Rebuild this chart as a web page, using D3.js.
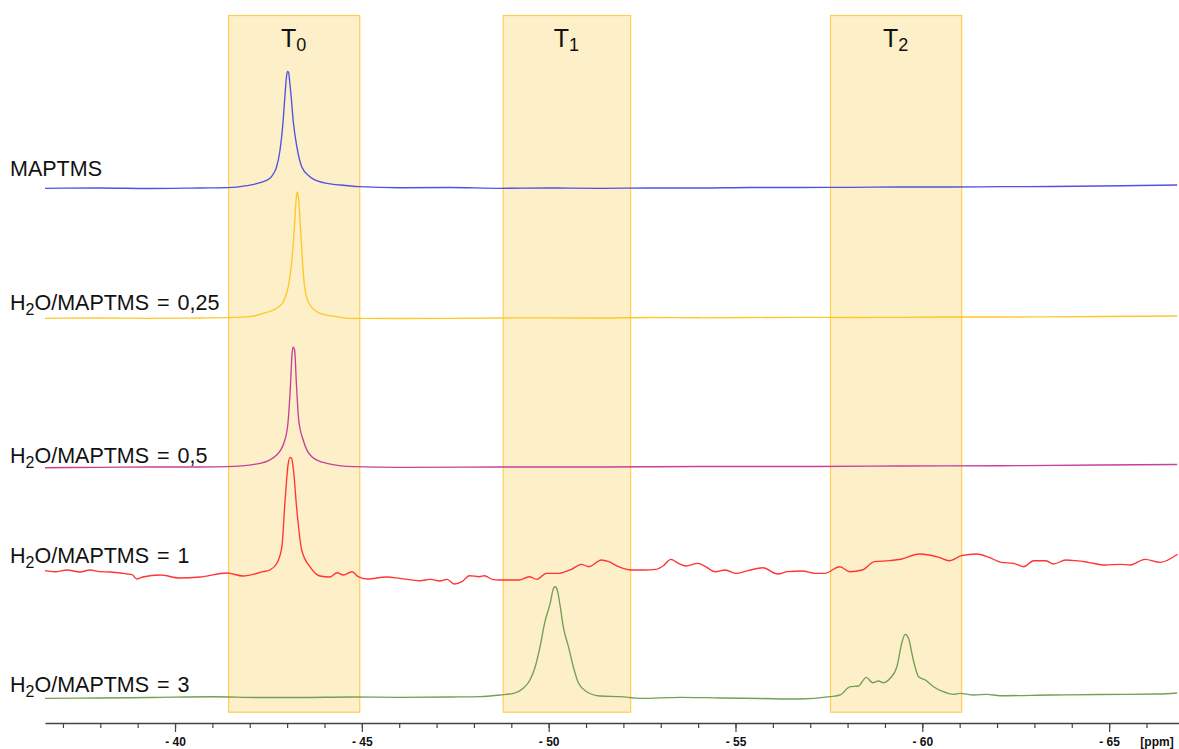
<!DOCTYPE html>
<html>
<head>
<meta charset="utf-8">
<script src="https://cdn.jsdelivr.net/npm/d3@7/dist/d3.min.js"></script>
<style>
  html, body { margin: 0; padding: 0; background: #ffffff; }
  svg { display: block; }
  text { font-family: "Liberation Sans", Arial, sans-serif; }
</style>
</head>
<body>
<svg id="chart" width="1179" height="749"></svg>
<script>
// ---------------- DATA ----------------
// chemical shift in ppm (negative), intensity in arbitrary units relative to each trace baseline
const seriesNames = ["MAPTMS", "H2O/MAPTMS = 0,25", "H2O/MAPTMS = 0,5", "H2O/MAPTMS = 1", "H2O/MAPTMS = 3"];
const seriesOffsets = [535, 405, 256, 146, 26];

const specMAPTMS = [
  [-36.52,-0.3],[-37.99,0],[-39.33,-0.5],[-40.67,0],[-41.42,0.3],[-41.92,2.3],[-42.28,5.3],[-42.54,9.7],
  [-42.63,14],[-42.72,21.3],[-42.81,38],[-42.88,61.3],[-42.94,91.3],[-42.98,110],[-43.01,116.5],[-43.04,115.5],
  [-43.07,106],[-43.10,94.7],[-43.17,64.7],[-43.26,41.3],[-43.39,21.3],[-43.61,11.3],[-43.97,5.3],[-44.42,3],[-44.93,1.3],
  [-46.02,0.3],[-47.36,0.5],[-48.70,-0.3],[-50.04,0],[-51.38,-0.3],[-52.71,0],[-54.05,0],[-55.39,0.5],
  [-56.73,0.5],[-58.07,0.7],[-59.41,1],[-60.74,1],[-62.08,1.3],[-63.42,1.5],[-64.76,2],[-65.83,2.5],[-66.82,3]
];
const specR025 = [
  [-36.52,-0.3],[-37.99,0],[-39.33,-0.3],[-40.67,0],[-41.38,0.3],[-42.01,1.3],[-42.36,4.7],[-42.72,9.7],
  [-42.90,16.3],[-43.03,31.3],[-43.12,54.7],[-43.19,88],[-43.24,118],[-43.27,126],[-43.31,118],
  [-43.36,88],[-43.42,51.3],[-43.48,28],[-43.61,13],[-43.88,4.7],[-44.33,1.3],[-44.68,-0.3],
  [-46.02,-0.5],[-47.36,-0.3],[-48.70,0],[-50.04,0.2],[-51.38,0],[-52.71,0.5],[-54.05,0.2],[-55.39,0.5],
  [-56.73,0.7],[-58.07,0.5],[-59.41,0.7],[-60.74,1],[-62.08,1],[-63.42,1.2],[-64.76,1.5],[-66.82,2]
];
const specR05 = [
  [-36.52,-0.7],[-37.99,-0.3],[-39.33,0],[-40.67,0],[-41.38,0.3],[-42.28,3.7],[-42.72,12],[-42.94,27],
  [-43.03,47],[-43.09,82],[-43.13,112],[-43.16,120],[-43.20,117],[-43.25,82],[-43.31,47],[-43.43,27],
  [-43.66,10.3],[-44.06,3.7],[-44.77,0.3],[-46.02,-0.3],[-48.70,0],[-51.38,0],[-54.05,0.5],[-56.73,0.5],
  [-59.41,1],[-62.08,1.3],[-64.76,2],[-66.82,2.5]
];
const specR1 = [
  [-36.52,6.3],[-36.79,5.3],[-37.11,7],[-37.46,5],[-37.72,7],[-37.99,5.3],[-38.26,5],[-38.72,3],[-38.85,2.3],
  [-38.98,-2],[-39.14,0],[-39.60,2],[-40.13,-1],[-40.67,0],[-41.39,4],[-41.82,1],[-42.36,5.3],[-42.54,7],
  [-42.73,14],[-42.86,30.3],[-42.94,73.7],[-43.03,113.7],[-43.08,119.7],[-43.12,118.7],[-43.17,107],
  [-43.26,67],[-43.39,27],[-43.61,10.3],[-43.88,1],[-44.15,0],[-44.34,4.3],[-44.50,2],[-44.74,5.3],
  [-44.90,0.3],[-45.14,-2],[-45.67,0],[-46.02,-1.3],[-46.56,-3.7],[-46.83,-2.3],[-47.09,-4],[-47.28,-2.3],
  [-47.48,-7],[-47.68,-4.7],[-47.88,1.3],[-48.15,0.3],[-48.28,1.3],[-48.49,-2.3],[-48.68,-3],[-49.21,-3],
  [-49.48,0.3],[-49.68,-2.3],[-49.94,3.7],[-50.28,3.7],[-50.61,7.7],[-50.87,12.7],[-51.08,10.3],
  [-51.41,17],[-51.61,15.3],[-51.87,10.3],[-52.21,7],[-52.54,7],[-52.87,7.7],[-53.07,11.3],[-53.27,17.7],
  [-53.47,13.7],[-53.67,11],[-54.00,13.7],[-54.20,10.3],[-54.46,5.3],[-54.73,7],[-55.00,3.7],[-55.33,6.3],
  [-55.73,9.3],[-56.13,3],[-56.39,5.3],[-56.79,6],[-57.13,3.7],[-57.39,3.7],[-57.79,10.3],[-58.06,5.3],
  [-58.39,7],[-58.72,15.3],[-59.12,16.3],[-59.45,18],[-59.91,23],[-60.18,22],[-60.45,19.7],[-60.72,16.3],
  [-61.05,21.3],[-61.45,23],[-61.78,19.7],[-62.11,14.7],[-62.44,13.7],[-62.71,10.3],[-62.98,16.3],
  [-63.31,16.3],[-63.51,13],[-63.84,17],[-64.11,16.3],[-64.44,14.7],[-64.90,12],[-65.30,12.7],[-65.56,12],
  [-65.96,17.7],[-66.37,14.7],[-66.83,22.7]
];
const specR3 = [
  [-36.52,-1.3],[-37.99,-1],[-39.33,-0.5],[-41.02,0.3],[-42.28,-0.5],[-43.35,-0.5],[-44.68,0],[-46.02,-0.3],
  [-47.36,0],[-48.16,0.3],[-48.70,2],[-49.06,3.7],[-49.32,8.7],[-49.50,17],[-49.64,30.3],[-49.77,50.3],
  [-49.90,75.3],[-50.04,93.7],[-50.13,108.7],[-50.17,110.3],[-50.23,107],[-50.31,90.3],[-50.39,70.3],
  [-50.53,50.3],[-50.66,30.3],[-50.80,13.7],[-51.02,5.3],[-51.38,1],[-51.91,0.3],[-52.45,-1.3],[-53.52,-0.3],
  [-54.59,-1],[-55.66,-1.5],[-56.73,-2],[-57.53,0.3],[-57.80,2],[-58.07,10.3],[-58.29,11],[-58.50,19.7],
  [-58.67,14.3],[-58.83,16],[-58.96,14.3],[-59.14,18.7],[-59.32,30.3],[-59.45,53.7],[-59.54,62.7],
  [-59.63,58.7],[-59.76,37],[-59.90,20.3],[-60.08,17],[-60.30,10.3],[-60.56,5.3],[-60.83,2.7],[-61.01,3.7],
  [-61.37,2],[-61.73,2.7],[-62.08,1.3],[-63.42,2],[-64.76,2.5],[-66.31,3],[-66.82,4]
];
const seriesData = [specMAPTMS, specR025, specR05, specR1, specR3];
const seriesColors = ["#5050e4", "#ffc828", "#c8409a", "#ff3434", "#72a055"];

const bandRanges = [[-41.42, -44.93], [-48.77, -52.18], [-57.53, -61.04]];
const bandLabels = ["0", "1", "2"];

const majorTicks = [-40, -45, -50, -55, -60, -65];
const minorTicks = d3.range(-37, -67, -1);
const axisUnit = "[ppm]";

// ---------------- LAYOUT ----------------
const svg = d3.select("#chart");
const x = d3.scaleLinear().domain([-36.52, -66.87]).range([45, 1179]);
const y = d3.scaleLinear().domain([0, 708]).range([723, 15]);

// highlight bands
const bandTop = y(708), bandBottom = y(11.3);
const bandG = svg.append("g");
bandG.selectAll("rect").data(bandRanges).join("rect")
  .attr("x", d => x(d[0]) + 0.5)
  .attr("y", bandTop + 0.5)
  .attr("width", d => x(d[1]) - x(d[0]))
  .attr("height", bandBottom - bandTop)
  .attr("fill", "#fdefc7")
  .attr("stroke", "#ffcf55")
  .attr("stroke-width", 1.2);

const bandText = bandG.selectAll("text.band").data(bandRanges).join("text")
  .attr("class", "band")
  .attr("x", d => (x(d[0]) + x(d[1])) / 2)
  .attr("y", 47)
  .attr("text-anchor", "middle")
  .attr("font-size", 25)
  .attr("fill", "#111");
bandText.append("tspan").text("T");
bandText.append("tspan").attr("font-size", 18).attr("dy", 4).text((d, i) => bandLabels[i]);

// spectra
const line = d3.line().x(d => x(d[0])).y(d => d[1]).curve(d3.curveMonotoneX);
const traceG = svg.append("g");
seriesData.forEach((data, i) => {
  const off = seriesOffsets[i];
  const pts = data.map(p => [p[0], y(off + p[1])]);
  traceG.append("path")
    .attr("d", line(pts))
    .attr("fill", "none")
    .attr("stroke", seriesColors[i])
    .attr("stroke-width", 1.35)
    .attr("stroke-linejoin", "round");
});

// series labels
const labelDy = [-12, -8, -4.5, -14, -5];
const labG = svg.append("g");
seriesNames.forEach((name, i) => {
  const t = labG.append("text")
    .attr("x", 10)
    .attr("y", y(seriesOffsets[i]) + labelDy[i])
    .attr("font-size", 21.5)
    .attr("word-spacing", 2)
    .attr("fill", "#111");
  if (name.startsWith("H2O")) {
    t.append("tspan").text("H");
    t.append("tspan").attr("font-size", 16).attr("dy", 5).text("2");
    t.append("tspan").attr("dy", -5).text(name.slice(2));
  } else {
    t.text(name);
  }
});

// axis
const axisY = 723;
const axG = svg.append("g").attr("transform", `translate(0,${axisY})`);
axG.call(d3.axisBottom(x).tickValues(minorTicks).tickSize(5).tickSizeOuter(0).tickFormat(""));
axG.select(".domain").attr("stroke", "#444").attr("stroke-width", 1.3);
axG.selectAll(".tick line").attr("stroke", "#444").attr("stroke-width", 1.2);

const axMaj = svg.append("g").attr("transform", `translate(0,${axisY})`);
axMaj.call(d3.axisBottom(x).tickValues(majorTicks).tickSize(9).tickSizeOuter(0).tickPadding(5.5)
  .tickFormat(d => "- " + Math.abs(d)));
axMaj.select(".domain").remove();
axMaj.selectAll(".tick line").attr("stroke", "#444").attr("stroke-width", 1.2);
axMaj.selectAll(".tick text")
  .attr("font-family", "'Liberation Sans', Arial, sans-serif")
  .attr("font-size", 12).attr("font-weight", "bold").attr("fill", "#111");

svg.append("text")
  .attr("x", 1157).attr("y", axisY + 23)
  .attr("text-anchor", "middle")
  .attr("font-size", 12).attr("font-weight", "bold").attr("fill", "#111")
  .text(axisUnit);
</script>
</body>
</html>
